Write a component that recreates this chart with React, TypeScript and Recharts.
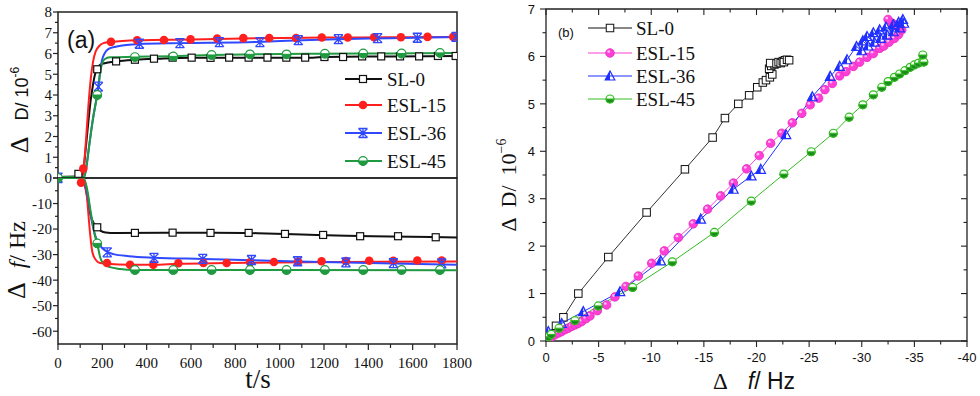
import React from "react";
import { ComposedChart, Line, Scatter, XAxis, YAxis, ReferenceArea } from "recharts";

const SERIF = "'Liberation Serif','Times New Roman',serif";
const SANS = "'Liberation Sans',Arial,sans-serif";

const RED = "#ff1f1f";
const BLUE = "#3049ff";
const GREEN = "#1f9a40";
const INK = "#111";

const PINK = "#ff3fd6";
const BLUE_B = "#1f2fff";
const GREEN_B = "#33bb22";
const GREEN_DARK = "#1d8a1d";

// ---------- panel (a), upper: ΔD (10^-6) against t (s) ----------
const sl0DCurve = [[0, 0.05], [108, 0.08], [115, 0.4], [125, 1.4], [137, 2.7], [147, 3.7], [155, 4.3], [165, 4.9], [175, 5.25], [190, 5.45], [210, 5.53], [262, 5.62], [350, 5.7], [450, 5.75], [600, 5.8], [1150, 5.8], [1200, 5.83], [1500, 5.86], [1800, 5.88]];
const esl15DCurve = [[0, 0.05], [108, 0.05], [115, 0.4], [122, 1.2], [130, 2.4], [138, 3.6], [148, 4.8], [158, 5.6], [170, 6.1], [185, 6.35], [205, 6.5], [240, 6.56], [360, 6.64], [600, 6.68], [900, 6.74], [1200, 6.77], [1500, 6.78], [1800, 6.8]];
const esl36DCurve = [[0, 0.05], [118, 0.05], [130, 0.7], [140, 1.5], [150, 2.3], [160, 3.0], [170, 3.6], [182, 4.4], [190, 5.1], [198, 5.65], [210, 6.0], [228, 6.22], [260, 6.33], [367, 6.46], [550, 6.5], [900, 6.56], [1100, 6.64], [1300, 6.7], [1500, 6.74], [1800, 6.8]];
const esl45DCurve = [[0, 0.05], [118, 0.05], [128, 0.5], [140, 1.5], [150, 2.3], [160, 3.0], [170, 3.6], [178, 4.0], [188, 4.9], [197, 5.45], [210, 5.72], [235, 5.82], [347, 5.84], [520, 5.87], [700, 5.93], [900, 5.96], [1200, 5.99], [1500, 6.0], [1800, 6.02]];

const sl0DMarks = [[92, 0.2], [177, 5.24], [262, 5.62], [347, 5.7], [433, 5.75], [517, 5.8], [603, 5.8], [688, 5.79], [772, 5.8], [860, 5.8], [945, 5.8], [1030, 5.8], [1115, 5.8], [1202, 5.83], [1286, 5.83], [1372, 5.86], [1458, 5.86], [1543, 5.86], [1629, 5.86], [1714, 5.88], [1794, 5.88]];
const esl15DMarks = [[114, 0.45], [239, 6.56], [357, 6.64], [478, 6.65], [598, 6.68], [718, 6.72], [836, 6.74], [953, 6.75], [1074, 6.75], [1190, 6.77], [1307, 6.77], [1426, 6.78], [1547, 6.78], [1667, 6.8], [1783, 6.8]];
const esl36DMarks = [[0, 0.02], [182, 4.4], [367, 6.47], [550, 6.5], [728, 6.55], [911, 6.55], [1084, 6.64], [1265, 6.69], [1442, 6.74], [1621, 6.76], [1796, 6.8]];
const esl45DMarks = [[0, 0], [177, 4.0], [347, 5.83], [520, 5.86], [693, 5.93], [866, 5.96], [1031, 5.96], [1204, 5.99], [1377, 6.0], [1550, 6.0], [1723, 6.03]];

// ---------- panel (a), lower: Δf (Hz) against t (s) ----------
const sl0FCurve = [[0, 0], [108, 0], [118, -1], [125, -4], [133, -8], [140, -12], [150, -15.5], [160, -17.5], [177, -19.3], [195, -20.8], [215, -21.3], [260, -21.5], [700, -21.4], [900, -21.6], [1100, -22.1], [1300, -22.6], [1500, -22.9], [1800, -23.3]];
const esl15FCurve = [[0, 0], [106, 0], [113, -1.5], [122, -3.5], [130, -7], [137, -14], [145, -22], [155, -29], [170, -32], [190, -33.3], [220, -33.6], [325, -34], [430, -34], [540, -33.6], [760, -33.3], [1000, -33.1], [1300, -32.9], [1800, -32.7]];
const esl36FCurve = [[0, 0], [112, 0], [120, -1.5], [130, -5], [140, -10], [152, -16.7], [163, -21], [174, -24], [190, -26.5], [212, -28.4], [250, -29.8], [320, -30.6], [433, -31.2], [653, -31.7], [873, -32.2], [1081, -32.7], [1299, -33.1], [1513, -33.5], [1800, -34]];
const esl45FCurve = [[0, 0], [115, 0], [125, -2], [135, -6], [145, -12], [155, -17], [165, -22], [177, -25.6], [190, -31], [205, -33.5], [235, -34.9], [280, -35.6], [347, -36], [1000, -36], [1800, -36.1]];

const sl0FMarks = [[177, -19.3], [347, -21.5], [517, -21.4], [688, -21.5], [860, -21.5], [1024, -21.9], [1196, -22.3], [1363, -22.8], [1534, -22.8], [1704, -23.2]];
const esl15FMarks = [[104, -1.8], [221, -33.3], [325, -34], [430, -34], [543, -33.4], [656, -33.3], [761, -33.3], [866, -33.0], [974, -32.9], [1083, -32.7], [1189, -32.6], [1299, -32.5], [1404, -32.4], [1513, -32.4], [1621, -32.3], [1731, -32.3]];
const esl36FMarks = [[0, 0], [222, -29.1], [433, -31.3], [653, -31.7], [873, -32.1], [1081, -32.6], [1299, -33.0], [1513, -33.3], [1731, -33.4]];
const esl45FMarks = [[0, 0], [177, -25.6], [347, -36], [520, -36], [693, -36], [866, -36], [1031, -36], [1204, -36], [1377, -36], [1550, -36], [1723, -36]];

// ---------- panel (b): ΔD (10^-6) against Δf (Hz) ----------
const sl0B = [[0, 0.05], [-0.95, 0.32], [-1.65, 0.5], [-3.07, 1.0], [-5.92, 1.77], [-9.56, 2.71], [-13.2, 3.62], [-15.83, 4.29], [-17.0, 4.7], [-18.27, 5.0], [-19.3, 5.18], [-20.07, 5.35], [-20.6, 5.45], [-20.9, 5.5], [-21.27, 5.56], [-21.5, 5.62], [-21.2, 5.74], [-21.4, 5.8], [-21.7, 5.83], [-21.3, 5.86], [-21.9, 5.85], [-22.1, 5.88], [-22.3, 5.86], [-22.5, 5.9], [-22.7, 5.92], [-22.6, 5.88], [-22.9, 5.93], [-23.1, 5.92]];
const esl15B = [[0, 0.02], [-0.2, 0.04], [-0.5, 0.08], [-0.85, 0.13], [-1.2, 0.17], [-1.49, 0.2], [-1.8, 0.24], [-2.12, 0.27], [-2.45, 0.31], [-2.75, 0.34], [-3.05, 0.37], [-3.39, 0.41], [-3.8, 0.47], [-4.18, 0.53], [-4.88, 0.64], [-5.76, 0.76], [-6.55, 0.93], [-7.6, 1.15], [-8.77, 1.37], [-10.04, 1.64], [-11.24, 1.9], [-12.57, 2.18], [-13.99, 2.47], [-15.35, 2.78], [-16.6, 3.06], [-17.8, 3.33], [-19.06, 3.63], [-20.26, 3.91], [-21.34, 4.17], [-22.4, 4.38], [-23.4, 4.6], [-24.3, 4.8], [-25.1, 4.98], [-25.9, 5.12], [-26.5, 5.3], [-27.2, 5.43], [-27.9, 5.59], [-28.5, 5.68], [-29.2, 5.79], [-29.8, 5.88], [-30.5, 5.98], [-31.1, 6.06], [-31.7, 6.17], [-32.1, 6.22], [-32.6, 6.3], [-33.1, 6.38], [-33.5, 6.46], [-33.8, 6.56], [-33.6, 6.6], [-33.3, 6.65], [-32.9, 6.7], [-32.5, 6.78]];
const esl36B = [[0, 0.05], [-0.22, 0.2], [-1.49, 0.37], [-3.54, 0.62], [-7.03, 1.04], [-10.9, 1.69], [-14.7, 2.57], [-17.8, 3.2], [-19.5, 3.48], [-20.4, 3.62], [-22.8, 4.35], [-25.3, 5.15], [-27.0, 5.58], [-27.9, 5.79], [-28.6, 5.93], [-29.5, 6.21], [-30.0, 6.12], [-30.1, 6.33], [-30.6, 6.22], [-30.5, 6.42], [-31.2, 6.3], [-31.1, 6.5], [-31.8, 6.38], [-31.7, 6.56], [-32.4, 6.45], [-32.3, 6.62], [-33.0, 6.52], [-33.0, 6.67], [-33.6, 6.6], [-33.5, 6.72], [-34.0, 6.7], [-33.9, 6.78]];
const esl45B = [[0, 0.02], [-0.22, 0.09], [-0.5, 0.14], [-1.24, 0.27], [-2.75, 0.43], [-4.97, 0.74], [-8.23, 1.13], [-12.0, 1.67], [-16.0, 2.29], [-19.5, 2.95], [-22.6, 3.52], [-25.2, 3.99], [-27.3, 4.38], [-28.8, 4.72], [-30.1, 4.98], [-31.1, 5.19], [-31.9, 5.35], [-32.5, 5.47], [-33.1, 5.56], [-33.6, 5.63], [-34.1, 5.7], [-34.6, 5.77], [-35.0, 5.82], [-35.4, 5.86], [-35.8, 5.9], [-35.9, 5.88], [-35.8, 6.03]];

// ticks
const tTicks = [0, 100, 200, 300, 400, 500, 600, 700, 800, 900, 1000, 1100, 1200, 1300, 1400, 1500, 1600, 1700, 1800];
const dTicksA = [0, 0.5, 1, 1.5, 2, 2.5, 3, 3.5, 4, 4.5, 5, 5.5, 6, 6.5, 7, 7.5, 8];
const fTicksA = [-60, -55, -50, -45, -40, -35, -30, -25, -20, -15, -10, -5, 0];
const fTicksB = [-40, -37.5, -35, -32.5, -30, -27.5, -25, -22.5, -20, -17.5, -15, -12.5, -10, -7.5, -5, -2.5, 0];
const dTicksB = [0, 0.5, 1, 1.5, 2, 2.5, 3, 3.5, 4, 4.5, 5, 5.5, 6, 6.5, 7];

const tv = (a: number[][]) => a.map(([t, v]) => ({ t, v }));
const fd = (a: number[][]) => a.map(([f, d]) => ({ f, d }));

// ---------- marker shapes ----------
const square = (cx: number, cy: number, s: number, sw = 1.2) => (
  <rect x={cx - s / 2} y={cy - s / 2} width={s} height={s} fill="#fff" stroke={INK} strokeWidth={sw} />
);
const disc = (cx: number, cy: number, r: number, fill: string) => <circle cx={cx} cy={cy} r={r} fill={fill} />;
const star = (cx: number, cy: number, c: string) => {
  const r = 4.5;
  return (
    <path
      d={`M${cx - r},${cy - r}L${cx + r},${cy + r}M${cx - r},${cy + r}L${cx + r},${cy - r}M${cx - r},${cy - r}H${cx + r}M${cx - r},${cy + r}H${cx + r}M${cx},${cy - r}V${cy + r}`}
      stroke={c}
      strokeWidth={1.3}
      fill="none"
    />
  );
};
const halfCircle = (cx: number, cy: number, r: number, line: string, fill: string, top = "#fff") => (
  <g>
    <circle cx={cx} cy={cy} r={r} fill={top} stroke={line} strokeWidth={1.2} />
    <path d={`M${cx - r},${cy}A${r},${r} 0 0 0 ${cx + r},${cy}Z`} fill={fill} stroke={line} strokeWidth={1} />
  </g>
);
const sphere = (cx: number, cy: number) => (
  <g>
    <circle cx={cx} cy={cy} r={4.3} fill={PINK} stroke="#e22cc0" strokeWidth={0.8} />
    <circle cx={cx - 1.3} cy={cy - 1.4} r={1.4} fill="#ffb8f0" />
  </g>
);
const halfTri = (cx: number, cy: number) => (
  <g>
    <path d={`M${cx},${cy - 5}L${cx - 4.8},${cy + 4}L${cx},${cy + 4}Z`} fill={BLUE_B} />
    <path d={`M${cx},${cy - 5}L${cx - 4.8},${cy + 4}L${cx + 4.8},${cy + 4}Z`} fill="none" stroke={BLUE_B} strokeWidth={1.2} />
  </g>
);

// ---------- tick renderers ----------
const leftTickA = (labelled: (v: number) => boolean, major: (v: number) => boolean) => (p: any) => {
  const v = p.payload.value;
  return (
    <g>
      <line x1={p.x - (major(v) ? 5 : 3)} x2={p.x} y1={p.y} y2={p.y} stroke="#222" strokeWidth={1.2} />
      {labelled(v) && (
        <text x={p.x - 6} y={p.y} dy="0.36em" textAnchor="end" fontFamily={SERIF} fontSize={15} fill={INK}>
          {v}
        </text>
      )}
    </g>
  );
};
const sepTickA = (p: any) => (
  <line x1={p.x} x2={p.x} y1={p.y} y2={p.y + 6} stroke="#222" strokeWidth={1.2} />
);
const bottomTickA = (p: any) => {
  const v = p.payload.value;
  const major = v % 200 === 0;
  return (
    <g>
      <line x1={p.x} x2={p.x} y1={p.y} y2={p.y + (major ? 6 : 4)} stroke="#222" strokeWidth={1.2} />
      {major && (
        <text x={p.x} y={p.y + 19} dy="0.36em" textAnchor="middle" fontFamily={SERIF} fontSize={15} fill={INK}>
          {v}
        </text>
      )}
    </g>
  );
};

const B_TOP = 9;
const B_RIGHT = 487;
const bottomTickB = (p: any) => {
  const v = p.payload.value;
  const major = v % 5 === 0;
  const len = major ? 6 : 3.5;
  return (
    <g>
      <line x1={p.x} x2={p.x} y1={p.y} y2={p.y + len} stroke="#222" strokeWidth={1.1} />
      <line x1={p.x} x2={p.x} y1={B_TOP} y2={B_TOP + len} stroke="#222" strokeWidth={1.1} />
      {major && (
        <text x={p.x} y={p.y + 16} dy="0.36em" textAnchor="middle" fontFamily={SANS} fontSize={13} fill={INK}>
          {v}
        </text>
      )}
    </g>
  );
};
const leftTickB = (p: any) => {
  const v = p.payload.value;
  const major = v % 1 === 0;
  const len = major ? 6 : 3.5;
  return (
    <g>
      <line x1={p.x - len} x2={p.x} y1={p.y} y2={p.y} stroke="#222" strokeWidth={1.1} />
      <line x1={B_RIGHT - len} x2={B_RIGHT} y1={p.y} y2={p.y} stroke="#222" strokeWidth={1.1} />
      {major && (
        <text x={p.x - 11} y={p.y} dy="0.36em" textAnchor="end" fontFamily={SANS} fontSize={13} fill={INK}>
          {v}
        </text>
      )}
    </g>
  );
};

const curve = (data: number[][], color: string) => (
  <Line
    data={tv(data)}
    dataKey="v"
    type="monotone"
    stroke={color}
    strokeWidth={2}
    dot={false}
    activeDot={false}
    isAnimationActive={false}
  />
);
const marks = (data: number[][], shape: (cx: number, cy: number) => React.ReactElement) => (
  <Scatter
    data={tv(data)}
    dataKey="v"
    isAnimationActive={false}
    shape={(p: any) => shape(p.cx, p.cy)}
  />
);
const pathB = (data: number[][], color: string, shape: (cx: number, cy: number) => React.ReactElement) => (
  <Line
    data={fd(data)}
    dataKey="d"
    type="linear"
    stroke={color}
    strokeWidth={1}
    dot={(p: any) => <g key={`d${p.index}`}>{shape(p.cx, p.cy)}</g>}
    activeDot={false}
    isAnimationActive={false}
  />
);

const shapeSL0a = (x: number, y: number) => square(x, y, 7);
const shape15a = (x: number, y: number) => disc(x, y, 4.3, RED);
const shape36a = (x: number, y: number) => star(x, y, BLUE);
const shape45a = (x: number, y: number) => halfCircle(x, y, 4.3, GREEN, GREEN);
const shapeSL0b = (x: number, y: number) => square(x, y, 7.5, 1);
const shape15b = (x: number, y: number) => sphere(x, y);
const shape36b = (x: number, y: number) => halfTri(x, y);
const shape45b = (x: number, y: number) => halfCircle(x, y, 4, GREEN_B, GREEN_DARK, "#f2fff0");

const legendA = [
  { name: "SL-0", color: INK, shape: shapeSL0a, y: 79 },
  { name: "ESL-15", color: RED, shape: shape15a, y: 105 },
  { name: "ESL-36", color: BLUE, shape: shape36a, y: 133 },
  { name: "ESL-45", color: GREEN, shape: shape45a, y: 161 },
];
const legendB = [
  { name: "SL-0", color: INK, shape: shapeSL0b, y: 28 },
  { name: "ESL-15", color: PINK, shape: shape15b, y: 53 },
  { name: "ESL-36", color: BLUE_B, shape: shape36b, y: 76 },
  { name: "ESL-45", color: GREEN_B, shape: shape45b, y: 99 },
];

export default function App() {
  return (
    <div style={{ position: "absolute", left: 0, top: 0, width: 980, height: 396, background: "#fff", overflow: "hidden" }}>
      {/* (a) upper panel */}
      <div style={{ position: "absolute", left: 0, top: 0 }}>
        <ComposedChart width={480} height={190} margin={{ top: 12, right: 23, bottom: 12, left: 0 }}>
          <XAxis dataKey="t" type="number" domain={[0, 1800]} ticks={tTicks.slice(1, -1)} interval={0} height={0}
            axisLine={false} tickLine={false} tickSize={0} tickMargin={0} tick={sepTickA} allowDataOverflow />
          <YAxis dataKey="v" type="number" domain={[0, 8]} ticks={dTicksA} interval={0} width={58}
            axisLine={false} tickLine={false} tickSize={0} tickMargin={0}
            tick={leftTickA((v) => v % 1 === 0, (v) => v % 1 === 0)} allowDataOverflow />
          <ReferenceArea x1={0} x2={1800} y1={0} y2={8} fill="none" stroke="#222" strokeWidth={1.5} fillOpacity={0} />
          {curve(sl0DCurve, INK)}
          {curve(esl15DCurve, RED)}
          {curve(esl36DCurve, BLUE)}
          {curve(esl45DCurve, GREEN)}
          {marks(sl0DMarks, shapeSL0a)}
          {marks(esl15DMarks, shape15a)}
          {marks(esl36DMarks, shape36a)}
          {marks(esl45DMarks, shape45a)}
        </ComposedChart>
      </div>

      {/* (a) lower panel */}
      <div style={{ position: "absolute", left: 0, top: 0 }}>
        <ComposedChart width={480} height={396} margin={{ top: 178, right: 23, bottom: 22, left: 0 }}>
          <XAxis dataKey="t" type="number" domain={[0, 1800]} ticks={tTicks} interval={0} height={30}
            axisLine={false} tickLine={false} tickSize={0} tickMargin={0} tick={bottomTickA} allowDataOverflow />
          <YAxis dataKey="v" type="number" domain={[-65, 0]} ticks={fTicksA} interval={0} width={58}
            axisLine={false} tickLine={false} tickSize={0} tickMargin={0}
            tick={leftTickA((v) => v % 10 === 0 && v !== 0, (v) => v % 10 === 0)} allowDataOverflow />
          <ReferenceArea x1={0} x2={1800} y1={-65} y2={0} fill="none" stroke="#222" strokeWidth={1.5} fillOpacity={0} />
          {curve(sl0FCurve, INK)}
          {curve(esl15FCurve, RED)}
          {curve(esl36FCurve, BLUE)}
          {curve(esl45FCurve, GREEN)}
          {marks(sl0FMarks, shapeSL0a)}
          {marks(esl15FMarks, shape15a)}
          {marks(esl36FMarks, shape36a)}
          {marks(esl45FMarks, shape45a)}
        </ComposedChart>
      </div>

      {/* (b) */}
      <div style={{ position: "absolute", left: 480, top: 0 }}>
        <ComposedChart width={500} height={396} margin={{ top: B_TOP, right: 13, bottom: 25, left: 0 }}>
          <XAxis dataKey="f" type="number" domain={[-40, 0]} reversed ticks={fTicksB} interval={0} height={30}
            axisLine={false} tickLine={false} tickSize={0} tickMargin={0} tick={bottomTickB} allowDataOverflow />
          <YAxis dataKey="d" type="number" domain={[0, 7]} ticks={dTicksB} interval={0} width={66}
            axisLine={false} tickLine={false} tickSize={0} tickMargin={0} tick={leftTickB} allowDataOverflow />
          <ReferenceArea x1={-40} x2={0} y1={0} y2={7} fill="none" stroke="#222" strokeWidth={1.3} fillOpacity={0} />
          {pathB(sl0B, "#333", shapeSL0b)}
          {pathB(esl15B, PINK, shape15b)}
          {pathB(esl36B, BLUE_B, shape36b)}
          {pathB(esl45B, GREEN_B, shape45b)}
        </ComposedChart>
      </div>

      {/* labels and legends */}
      <svg width={980} height={396} style={{ position: "absolute", left: 0, top: 0, pointerEvents: "none" }}>
        <text x={67} y={48} fontFamily={SANS} fontSize={23} fill={INK}>(a)</text>

        <text transform="translate(28,110) rotate(-90)" textAnchor="middle" fill={INK}>
          <tspan fontFamily={SERIF} fontSize={26}>Δ</tspan>
          <tspan fontFamily={SANS} fontSize={18} dx={16}>D/ 10</tspan>
          <tspan fontFamily={SANS} fontSize={12} dy={-9}>-6</tspan>
        </text>
        <text transform="translate(25,260) rotate(-90)" textAnchor="middle" fill={INK}>
          <tspan fontFamily={SERIF} fontSize={26}>Δ</tspan>
          <tspan fontFamily={SERIF} fontSize={24} fontStyle="italic" dx={14}>f</tspan>
          <tspan fontFamily={SERIF} fontSize={24}>/ Hz</tspan>
        </text>
        <text x={258} y={388} textAnchor="middle" fontFamily={SERIF} fontSize={27} fill={INK}>t/s</text>

        {legendA.map((l) => (
          <g key={l.name}>
            <line x1={345} x2={382} y1={l.y} y2={l.y} stroke={l.color} strokeWidth={2} />
            {l.shape(363, l.y)}
            <text x={387} y={l.y} dy="0.35em" fontFamily={SERIF} fontSize={19} fill={INK}>{l.name}</text>
          </g>
        ))}

        <text x={558} y={37} fontFamily={SANS} fontSize={13} fill={INK}>(b)</text>
        {legendB.map((l) => (
          <g key={l.name}>
            <line x1={588} x2={632} y1={l.y} y2={l.y} stroke={l.color} strokeWidth={1} />
            {l.shape(610, l.y)}
            <text x={636} y={l.y} dy="0.35em" fontFamily={SERIF} fontSize={19} fill={INK}>{l.name}</text>
          </g>
        ))}

        <text transform="translate(516,185) rotate(-90)" textAnchor="middle" fill={INK}>
          <tspan fontFamily={SERIF} fontSize={22}>Δ</tspan>
          <tspan fontFamily={SERIF} fontSize={22} dx={10}>D/</tspan>
          <tspan fontFamily={SERIF} fontSize={22} dx={10}>10</tspan>
          <tspan fontFamily={SERIF} fontSize={14} dy={-10}>−6</tspan>
        </text>
        <text x={713} y={389} fill={INK}>
          <tspan fontFamily={SERIF} fontSize={23}>Δ</tspan>
          <tspan fontFamily={SANS} fontSize={23} fontStyle="italic" dx={20}>f</tspan>
          <tspan fontFamily={SANS} fontSize={23}>/ Hz</tspan>
        </text>
      </svg>
    </div>
  );
}
